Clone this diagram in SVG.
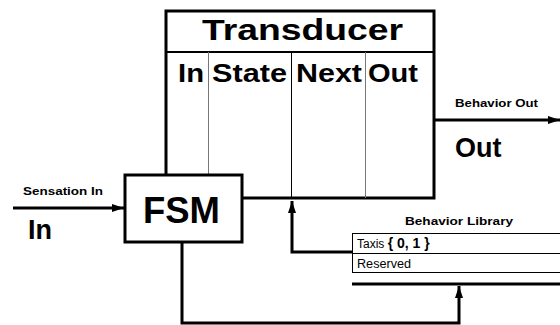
<svg xmlns="http://www.w3.org/2000/svg" width="560" height="325" viewBox="0 0 560 325">
  <defs>
    <marker id="arrow" viewBox="0 0 12 8" refX="12" refY="4" markerWidth="12" markerHeight="8" markerUnits="userSpaceOnUse" orient="auto">
      <path d="M0,0 L12,4 L0,8 z" fill="#000"/>
    </marker>
    <style>
      text { font-family: "Liberation Sans", Arial, sans-serif; fill: #000; }
      .b { font-weight: bold; }
      .thick { fill: none; stroke: #000; stroke-width: 3; }
      .box { fill: #fff; stroke: #000; stroke-width: 3; }
      .thin { fill: none; stroke: #000; stroke-width: 1; }
      .grey { fill: none; stroke: #777; stroke-width: 1; }
    </style>
  </defs>
  <rect width="560" height="325" fill="#fff"/>

  <!-- Transducer table -->
  <g id="transducer">
    <rect class="box" x="166" y="11" width="268" height="187"/>
    <line x1="166" y1="52" x2="434" y2="52" stroke="#000" stroke-width="2"/>
    <line class="grey" x1="208.5" y1="52" x2="208.5" y2="198"/>
    <line class="thin" x1="291.5" y1="52" x2="291.5" y2="198"/>
    <line class="grey" x1="365.5" y1="52" x2="365.5" y2="198"/>
    <text class="b" x="202" y="40" font-size="30" textLength="201" lengthAdjust="spacingAndGlyphs">Transducer</text>
    <text class="b" x="178" y="82" font-size="26" textLength="26" lengthAdjust="spacingAndGlyphs">In</text>
    <text class="b" x="212" y="82" font-size="26" textLength="75" lengthAdjust="spacingAndGlyphs">State</text>
    <text class="b" x="296" y="82" font-size="26" textLength="66" lengthAdjust="spacingAndGlyphs">Next</text>
    <text class="b" x="368" y="82" font-size="26" textLength="50" lengthAdjust="spacingAndGlyphs">Out</text>
  </g>

  <!-- Finite state machine -->
  <g id="fsm">
    <rect class="box" x="125" y="175" width="117" height="67"/>
    <text class="b" x="143" y="223" font-size="36" textLength="77" lengthAdjust="spacingAndGlyphs">FSM</text>
  </g>

  <!-- Behavior library -->
  <g id="library">
    <text class="b" x="405" y="225" font-size="11" textLength="108" lengthAdjust="spacingAndGlyphs">Behavior Library</text>
    <rect x="352.5" y="233.5" width="215" height="39" fill="#fff" stroke="#000" stroke-width="1"/>
    <line class="thin" x1="352" y1="253.5" x2="560" y2="253.5"/>
    <text x="357" y="248" font-size="12">Taxis <tspan class="b" font-size="14">{ 0, 1 }</tspan></text>
    <text x="357" y="268" font-size="12" textLength="54" lengthAdjust="spacingAndGlyphs">Reserved</text>
    <line class="thick" x1="352" y1="284" x2="560" y2="284"/>
  </g>

  <!-- Input / output labels -->
  <g id="labels">
    <text class="b" x="23" y="195" font-size="11" textLength="80" lengthAdjust="spacingAndGlyphs">Sensation In</text>
    <text class="b" x="28" y="239" font-size="27">In</text>
    <text class="b" x="455" y="107" font-size="11" textLength="83" lengthAdjust="spacingAndGlyphs">Behavior Out</text>
    <text class="b" x="455" y="157" font-size="27">Out</text>
  </g>

  <!-- Connectors -->
  <g id="connectors">
    <line class="thick" x1="13" y1="208" x2="124" y2="208" marker-end="url(#arrow)"/>
    <line class="thick" x1="434" y1="120" x2="560" y2="120" marker-end="url(#arrow)"/>
    <polyline class="thick" points="352,252 292,252 292,201" marker-end="url(#arrow)"/>
    <polyline class="thick" points="182,242 182,323 459,323 459,286" marker-end="url(#arrow)"/>
  </g>
</svg>
